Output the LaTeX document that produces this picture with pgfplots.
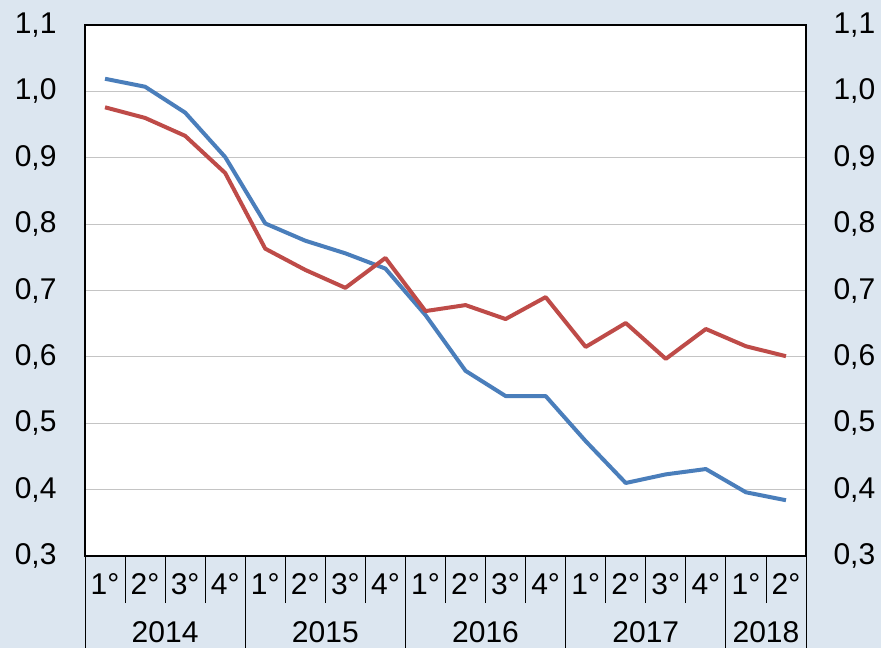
\documentclass[border=0pt]{standalone}
\usepackage{pgfplots}
\pgfplotsset{compat=1.18}
\usepackage{fontspec}
\setmainfont{Liberation Sans}
\definecolor{bgblue}{HTML}{DCE6F0}
\definecolor{lineblue}{HTML}{4A7EBB}
\definecolor{linered}{HTML}{BE4B48}
\definecolor{gridgray}{HTML}{C4C4C4}
\begin{document}
\begin{tikzpicture}
\fill[bgblue] (-85pt,-92pt) rectangle (796pt,556pt);
\useasboundingbox (-85pt,-92pt) rectangle (796pt,556pt);
\begin{axis}[
  at={(0pt,0pt)}, anchor=south west,
  scale only axis, width=721pt, height=531pt,
  xmin=0.5, xmax=18.5, ymin=0.3, ymax=1.1,
  axis background/.style={fill=white},
  axis line style={black, line width=1.3pt},
  ytick={0.3,0.4,...,1.1},
  ymajorgrids, grid style={gridgray, line width=0.8pt},
  major tick length=0pt,
  xtick pos=lower, ytick pos=left,
  yticklabel={\pgfmathprintnumber[use comma,fixed,fixed zerofill,precision=1,assume math mode=true]{\tick}},
  yticklabel style={font=\fontsize{30}{30}\selectfont, xshift=-25pt},
  xtick={1,...,18},
  xticklabels={1°,2°,3°,4°,1°,2°,3°,4°,1°,2°,3°,4°,1°,2°,3°,4°,1°,2°},
  xticklabel style={font=\fontsize{30}{30}\selectfont, anchor=center, yshift=-28pt},
  minor xtick={1.5,2.5,3.5,5.5,6.5,7.5,9.5,10.5,11.5,13.5,14.5,15.5,17.5},
  minor tick length=47pt,
  tick align=outside,
  minor tick style={black, line width=0.8pt},
  extra x ticks={0.5,4.5,8.5,12.5,16.5,18.5},
  extra x tick labels={},
  extra x tick style={major tick length=92pt, tick align=outside, major tick style={black, line width=0.8pt}, xmajorgrids=false},
  clip=false,
]
\addplot[lineblue, line width=4pt, line join=round] coordinates {
(1,1.019) (2,1.007) (3,0.968) (4,0.901) (5,0.801) (6,0.775) (7,0.756) (8,0.733) (9,0.663)
(10,0.579) (11,0.541) (12,0.541) (13,0.473) (14,0.410) (15,0.423) (16,0.431) (17,0.396) (18,0.384)};
\addplot[linered, line width=4pt, line join=round] coordinates {
(1,0.976) (2,0.960) (3,0.933) (4,0.877) (5,0.763) (6,0.731) (7,0.704) (8,0.749) (9,0.669)
(10,0.678) (11,0.657) (12,0.690) (13,0.615) (14,0.651) (15,0.597) (16,0.642) (17,0.616) (18,0.601)};
\draw[black, line width=2pt] (axis cs:0.5,0.3) -- (axis cs:18.5,0.3);
\node[font=\fontsize{30}{30}\selectfont, anchor=center] at ([yshift=-76pt]axis cs:2.5,0.3) {2014};
\node[font=\fontsize{30}{30}\selectfont, anchor=center] at ([yshift=-76pt]axis cs:6.5,0.3) {2015};
\node[font=\fontsize{30}{30}\selectfont, anchor=center] at ([yshift=-76pt]axis cs:10.5,0.3) {2016};
\node[font=\fontsize{30}{30}\selectfont, anchor=center] at ([yshift=-76pt]axis cs:14.5,0.3) {2017};
\node[font=\fontsize{30}{30}\selectfont, anchor=center] at ([yshift=-76pt]axis cs:17.5,0.3) {2018};
\end{axis}
\begin{axis}[
  at={(0pt,0pt)}, anchor=south west,
  scale only axis, width=721pt, height=531pt,
  xmin=0.5, xmax=18.5, ymin=0.3, ymax=1.1,
  axis y line*=right, axis x line=none,
  axis line style={black, line width=1.3pt},
  ytick={0.3,0.4,...,1.1},
  major tick length=0pt,
  yticklabel={\pgfmathprintnumber[use comma,fixed,fixed zerofill,precision=1,assume math mode=true]{\tick}},
  yticklabel style={font=\fontsize{30}{30}\selectfont, xshift=24pt},
]
\addplot[draw=none] coordinates {(1,0.5)};
\end{axis}
\end{tikzpicture}
\end{document}
